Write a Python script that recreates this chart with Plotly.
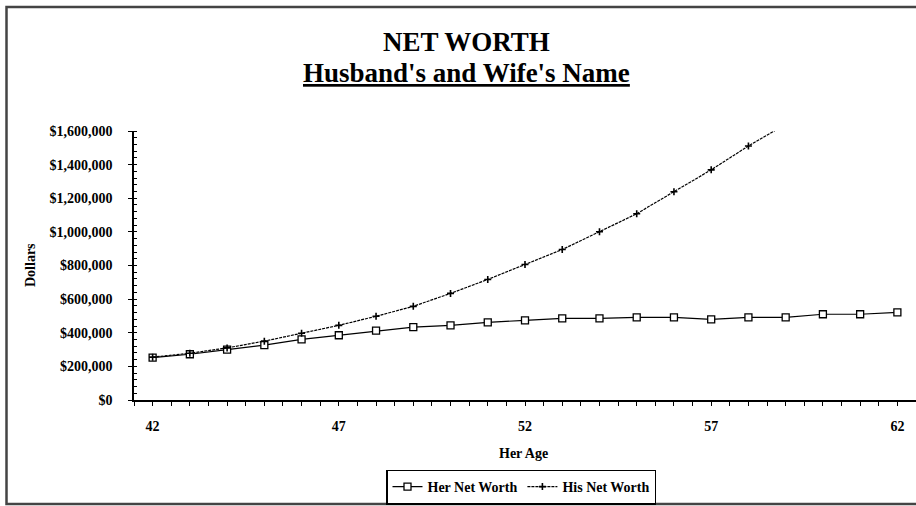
import plotly.graph_objects as go

# ---- data ----
ages = [42, 43, 44, 45, 46, 47, 48, 49, 50, 51, 52, 53, 54, 55, 56, 57, 58, 59, 60, 61, 62]
her_net_worth = [252000, 272000, 300000, 326000, 361000, 385000, 413000, 433000, 444000,
                 462000, 474000, 486000, 486000, 492000, 492000, 480000, 492000, 492000,
                 510000, 510000, 521000]
his_ages = [42, 43, 44, 45, 46, 47, 48, 49, 50, 51, 52, 53, 54, 55, 56, 57, 58, 59]
his_net_worth = [255000, 278000, 310000, 350000, 397000, 444000, 498000, 557000, 634000,
                 717000, 806000, 895000, 1001000, 1108000, 1239000, 1369000, 1511000, 1640000]
x_tick_vals = [42, 47, 52, 57, 62]
x_tick_text = ["42", "47", "52", "57", "62"]
title_main = "NET WORTH"
title_sub = "Husband's and Wife's Name"

SERIF = "Liberation Serif"
W, H = 916, 506
L, R, T, B = 134, 0, 131, 106
pw, ph = W - L - R, H - T - B


def px_x(x):
    return (x - L) / pw


def px_y(y):
    return (H - B - y) / ph


fig = go.Figure()
fig.add_trace(go.Scatter(
    x=ages, y=her_net_worth, name="Her Net Worth", mode="lines+markers",
    line=dict(color="black", width=1.2),
    marker=dict(symbol="square", size=7, color="white", line=dict(color="black", width=1.3)),
))
fig.add_trace(go.Scatter(
    x=his_ages, y=his_net_worth, name="His Net Worth", mode="lines+markers",
    line=dict(color="black", width=1.2, dash="3px,1px"),
    marker=dict(symbol="cross-thin", size=5, color="black", line=dict(color="black", width=1.6)),
))

fig.update_layout(
    width=W, height=H,
    margin=dict(l=L, r=R, t=T, b=B),
    paper_bgcolor="white", plot_bgcolor="white",
    font=dict(family=SERIF, color="black", size=14),
    showlegend=True,
    legend=dict(
        orientation="h", x=px_x(521), y=px_y(487), xanchor="center", yanchor="middle",
        bordercolor="black", borderwidth=1.5, bgcolor="white",
        font=dict(family=SERIF, size=14, color="black", weight="bold"),
        itemwidth=30, tracegroupgap=0,
    ),
    xaxis=dict(
        range=[41.5, 62.5], showgrid=False, zeroline=False,
        showline=True, linecolor="black", linewidth=1.5,
        tickvals=x_tick_vals, ticktext=x_tick_text,
        ticks="outside", ticklen=4, tickcolor="black", tickwidth=1.3,
        minor=dict(dtick=0.5, tick0=41.5, ticks="outside", ticklen=4, tickcolor="black", tickwidth=1.3),
        tickfont=dict(family=SERIF, size=14, color="black", weight="bold"),
        ticklabelstandoff=8,
    ),
    yaxis=dict(
        range=[0, 1600000], showgrid=False, zeroline=False,
        showline=True, linecolor="black", linewidth=1.5,
        dtick=200000, tickprefix="$", tickformat=",.0f",
        ticks="outside", ticklen=4, tickcolor="black", tickwidth=1.3,
        minor=dict(dtick=40000, ticks="inside", ticklen=3, tickcolor="black", tickwidth=1.2),
        tickfont=dict(family=SERIF, size=14, color="black", weight="bold"),
        ticklabelstandoff=13,
    ),
)

fig.add_annotation(text="<b>" + title_main + "</b>", xref="paper", yref="paper",
                   x=px_x(466), y=px_y(42), xanchor="center", yanchor="middle",
                   showarrow=False, font=dict(family=SERIF, size=27, color="black"))
fig.add_annotation(text="<b><u>" + title_sub + "</u></b>", xref="paper", yref="paper",
                   x=px_x(466), y=px_y(73), xanchor="center", yanchor="middle",
                   showarrow=False, font=dict(family=SERIF, size=27, color="black"))
fig.add_annotation(text="<b>Her Age</b>", xref="paper", yref="paper",
                   x=px_x(523), y=px_y(453), xanchor="center", yanchor="middle",
                   showarrow=False, font=dict(family=SERIF, size=14, color="black"))
fig.add_annotation(text="<b>Dollars</b>", xref="paper", yref="paper",
                   x=px_x(30), y=px_y(265), xanchor="center", yanchor="middle",
                   textangle=-90, showarrow=False, font=dict(family=SERIF, size=14, color="black"))

# outer chart border
fig.add_shape(type="rect", xref="paper", yref="paper",
              x0=px_x(6.5), x1=px_x(930), y0=px_y(504), y1=px_y(7),
              line=dict(color="#444444", width=2.5), layer="below")

fig.write_html("out.html", config={"displayModeBar": False},
               post_script="document.body.style.margin='0';document.body.style.overflow='hidden';")
